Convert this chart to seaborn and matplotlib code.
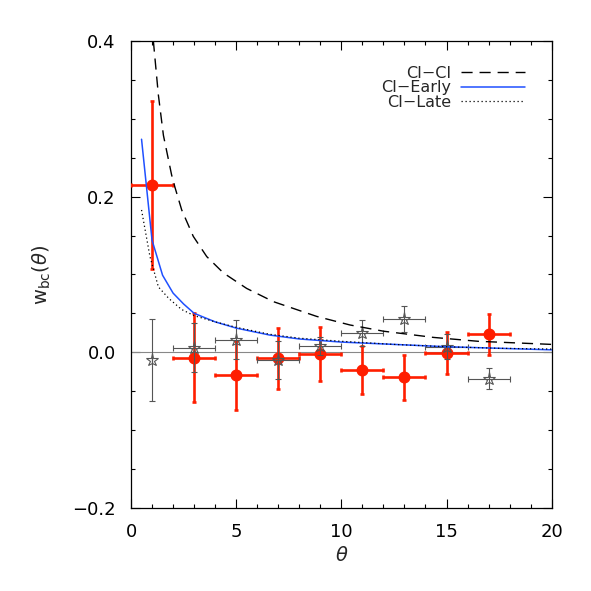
import numpy as np
import pandas as pd
import matplotlib
matplotlib.use("Agg")
import matplotlib.pyplot as plt
from matplotlib.ticker import MultipleLocator
import seaborn as sns

## measured points (red) and comparison sample (grey stars)
theta = [1, 3, 5, 7, 9, 11, 13, 15, 17]
theta_err = [1, 1, 1, 1, 1, 1, 1, 1, 1]
w_red = [0.215, -0.007, -0.030, -0.008, -0.002, -0.023, -0.032, -0.001, 0.023]
w_red_err = [0.108, 0.057, 0.045, 0.039, 0.035, 0.031, 0.029, 0.027, 0.026]
w_star = [-0.010, 0.006, 0.016, -0.010, 0.008, 0.025, 0.043, 0.007, -0.034]
w_star_err = [0.053, 0.031, 0.025, 0.025, 0.012, 0.017, 0.017, 0.016, 0.014]
star_xerr = [0, 1, 1, 1, 1, 1, 1, 1, 1]

## model curves
th_clcl = [1.06, 1.30, 1.54, 1.93, 2.09, 2.41, 2.96, 3.60, 4.39, 5.50, 6.77,
           8.83, 10.41, 12.0, 14.38, 16.5, 20.0]
w_clcl = [0.401, 0.331, 0.279, 0.228, 0.212, 0.183, 0.149, 0.123, 0.102, 0.082,
          0.065, 0.046, 0.035, 0.027, 0.019, 0.014, 0.010]
th_early = [0.5, 1, 1.5, 2, 2.5, 3, 4, 5, 6.6, 8, 10, 12.5, 15, 17.5, 20]
w_early = [0.274, 0.144, 0.099, 0.076, 0.062, 0.050, 0.039, 0.031, 0.022, 0.017,
           0.013, 0.010, 0.007, 0.005, 0.003]
th_late = [0.5, 0.9, 1.3, 1.8, 2.4, 3, 4, 5, 6.6, 8, 10, 12.5, 15, 17.5, 20]
w_late = [0.183, 0.123, 0.084, 0.069, 0.055, 0.047, 0.039, 0.032, 0.023, 0.018,
          0.014, 0.010, 0.007, 0.005, 0.004]

RED = '#ff1e00'
BLUE = '#1f50ff'
GREY = '#555555'

sns.set_style('ticks')
plt.rcParams['font.family'] = ['DejaVu Sans']

fig = plt.figure(figsize=(5.91, 5.91), dpi=100)
ax = fig.add_axes([0.2217, 0.1411, 0.7118, 0.789])

ax.axhline(0, color='#888888', lw=0.8, zorder=1)

## red points
ax.errorbar(theta, w_red, yerr=w_red_err, xerr=theta_err, fmt='none',
            ecolor=RED, elinewidth=1.9, capsize=1.6, capthick=1.9, zorder=3)
sns.scatterplot(x=theta, y=w_red, ax=ax, color=RED, s=75, edgecolor=RED,
                linewidth=0, zorder=4)

## grey stars
ax.errorbar(theta, w_star, yerr=w_star_err, xerr=star_xerr, fmt='*', ms=9.5,
            mfc='none', mec=GREY, mew=0.8, ecolor=GREY, elinewidth=0.8,
            capsize=2.2, capthick=0.8, zorder=5)

## curves
sns.lineplot(x=th_clcl, y=w_clcl, ax=ax, color='k', lw=1.0,
             linestyle=(0, (8, 5)), label='CI\u2212CI', zorder=6)
sns.lineplot(x=th_early, y=w_early, ax=ax, color=BLUE, lw=1.1,
             label='CI\u2212Early', zorder=6)
sns.lineplot(x=th_late, y=w_late, ax=ax, color='k', lw=0.9,
             linestyle=(0, (1, 2.2)), label='CI\u2212Late', zorder=7)

ax.set_xlim(0, 20)
ax.set_ylim(-0.2, 0.4)
ax.xaxis.set_major_locator(MultipleLocator(5))
ax.xaxis.set_minor_locator(MultipleLocator(1))
ax.yaxis.set_major_locator(MultipleLocator(0.2))
ax.yaxis.set_minor_locator(MultipleLocator(0.05))
ax.tick_params(which='both', direction='in', top=True, right=True,
               colors='k', labelsize=13)
ax.tick_params(which='major', length=6.5, width=0.8, pad=11)
ax.tick_params(which='minor', length=3, width=0.8)
for s in ax.spines.values():
    s.set_linewidth(0.9)
    s.set_color('k')

ax.set_xlabel(r'$\theta$', fontsize=14, labelpad=4)
ax.set_ylabel(r'w$_{\rm bc}$($\theta$)', fontsize=14, labelpad=14)

leg = ax.legend(loc='upper right', bbox_to_anchor=(0.936, 0.948),
                frameon=False, markerfirst=False, fontsize=11.5,
                handlelength=4.0, handletextpad=0.6, labelspacing=-0.02,
                borderpad=0, borderaxespad=0)

fig.savefig('out.png', dpi=100)
